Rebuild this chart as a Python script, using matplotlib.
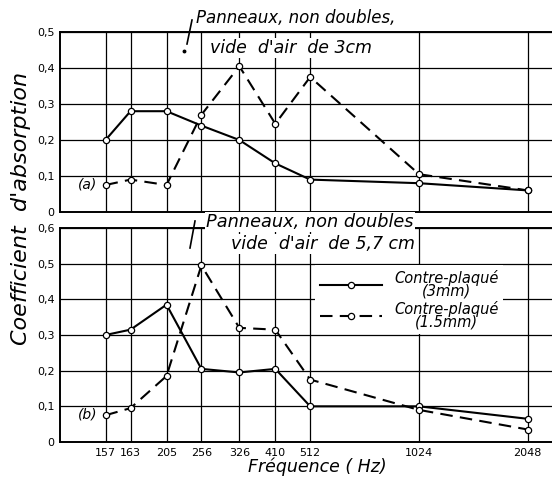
import matplotlib
matplotlib.use("Agg")
import matplotlib.pyplot as plt
from matplotlib.lines import Line2D
from matplotlib.ticker import FixedLocator, FixedFormatter, NullLocator

# frequency positions (the first one is drawn at ~139 Hz on the log axis)
freqs = [139, 163, 205, 256, 326, 410, 512, 1024, 2048]
freq_labels = ["157", "163", "205", "256", "326", "410", "512", "1024", "2048"]

# panel (a): air gap 3 cm
a_3mm = [0.20, 0.28, 0.28, 0.24, 0.20, 0.135, 0.09, 0.08, 0.06]
a_15mm = [0.075, 0.09, 0.075, 0.27, 0.405, 0.245, 0.375, 0.105, 0.06]

# panel (b): air gap 5.7 cm
b_3mm = [0.30, 0.315, 0.385, 0.205, 0.195, 0.205, 0.10, 0.10, 0.065]
b_15mm = [0.075, 0.095, 0.185, 0.495, 0.32, 0.315, 0.175, 0.09, 0.035]

a_yticks = [0, 0.1, 0.2, 0.3, 0.4, 0.5]
a_ylabels = ["0", "0,1", "0,2", "0,3", "0,4", "0,5"]
b_yticks = [0, 0.1, 0.2, 0.3, 0.4, 0.5, 0.6]
b_ylabels = ["0", "0,1", "0,2", "0,3", "0,4", "0,5", "0,6"]

W, H = 552, 483
ITAL = dict(family="DejaVu Sans", style="italic")


def setup(ax, ymax, yticks, ylabels):
    ax.set_xscale("log")
    ax.set_xlim(104, 2390)
    ax.set_ylim(0, ymax)
    ax.xaxis.set_major_locator(FixedLocator(freqs))
    ax.xaxis.set_minor_locator(NullLocator())
    ax.yaxis.set_major_locator(FixedLocator(yticks))
    ax.yaxis.set_major_formatter(FixedFormatter(ylabels))
    ax.grid(True, color="black", linewidth=0.9)
    ax.set_axisbelow(True)
    ax.tick_params(length=0, labelsize=8, pad=4)
    for s in ("left", "bottom", "top"):
        ax.spines[s].set_linewidth(1.4)
    ax.spines["right"].set_visible(False)


def curves(ax, solid, dashed):
    mk = dict(marker="o", markersize=4.5, markerfacecolor="white",
              markeredgecolor="black", markeredgewidth=0.9, color="black")
    ax.plot(freqs, solid, linestyle="-", linewidth=1.5, **mk)
    ax.plot(freqs, dashed, linestyle=(0, (6, 3.5)), linewidth=1.5, **mk)


fig = plt.figure(figsize=(W / 100, H / 100), dpi=100)
ax_a = fig.add_axes([60 / W, 1 - 212 / H, 1 - 60 / W, 180 / H])
ax_b = fig.add_axes([60 / W, 1 - 442 / H, 1 - 60 / W, 214 / H])

setup(ax_a, 0.5, a_yticks, a_ylabels)
setup(ax_b, 0.6, b_yticks, b_ylabels)
ax_a.xaxis.set_major_formatter(FixedFormatter([""] * len(freqs)))
ax_b.xaxis.set_major_formatter(FixedFormatter(freq_labels))

curves(ax_a, a_3mm, a_15mm)
curves(ax_b, b_3mm, b_15mm)

fig.text(78 / W, 1 - 185 / H, "(a)", fontsize=10, va="center", **ITAL)
fig.text(78 / W, 1 - 415 / H, "(b)", fontsize=10, va="center", **ITAL)

wbox = dict(facecolor="white", edgecolor="none", pad=1.0)
fig.text(196 / W, 1 - 18 / H, "Panneaux, non doubles,", fontsize=12,
         va="center", ha="left", bbox=wbox, **ITAL)
fig.text(210 / W, 1 - 48 / H, "vide  d'air  de 3cm", fontsize=12.5,
         va="center", ha="left", bbox=wbox, **ITAL)
fig.text(206 / W, 1 - 222 / H, "Panneaux, non doubles", fontsize=12.8,
         va="center", ha="left", bbox=wbox, **ITAL)
fig.text(231 / W, 1 - 244 / H, "vide  d'air  de 5,7 cm", fontsize=12.5,
         va="center", ha="left", bbox=wbox, **ITAL)

# leader strokes next to the captions
lk = dict(color="black", linewidth=1.2, transform=fig.transFigure)
fig.add_artist(Line2D([192 / W, 187 / W], [1 - 20 / H, 1 - 44 / H], **lk))
fig.add_artist(Line2D([184 / W], [1 - 51 / H], marker="o", markersize=1.8,
                      color="black", transform=fig.transFigure))
fig.add_artist(Line2D([195 / W, 190 / W], [1 - 221 / H, 1 - 248 / H], **lk))

fig.text(21 / W, 1 - 208 / H, "Coefficient  d'absorption", rotation=90,
         fontsize=16, va="center", ha="center", **ITAL)
fig.text(317 / W, 1 - 467 / H, "Fréquence ( Hz)", fontsize=12.5,
         va="center", ha="center", **ITAL)

handles = [
    Line2D([], [], color="black", linestyle="-", linewidth=1.5, marker="o",
           markersize=4.5, markerfacecolor="white", markeredgewidth=0.9),
    Line2D([], [], color="black", linestyle=(0, (6, 3.5)), linewidth=1.5,
           marker="o", markersize=4.5, markerfacecolor="white",
           markeredgewidth=0.9),
]
leg = ax_b.legend(handles, ["Contre-plaqué\n(3mm)", "Contre-plaqué\n(1.5mm)"],
                  loc="upper left", bbox_to_anchor=(308 / W, 1 - 258 / H),
                  bbox_transform=fig.transFigure, frameon=True, fancybox=False,
                  edgecolor="none", facecolor="white", framealpha=1,
                  handlelength=4.3, labelspacing=0.2, borderpad=0.3,
                  prop=dict(family="DejaVu Sans", style="italic", size=10.5))
for t in leg.get_texts():
    t.set_multialignment("center")
    t.set_linespacing(0.8)

fig.savefig("out.png", dpi=100)
